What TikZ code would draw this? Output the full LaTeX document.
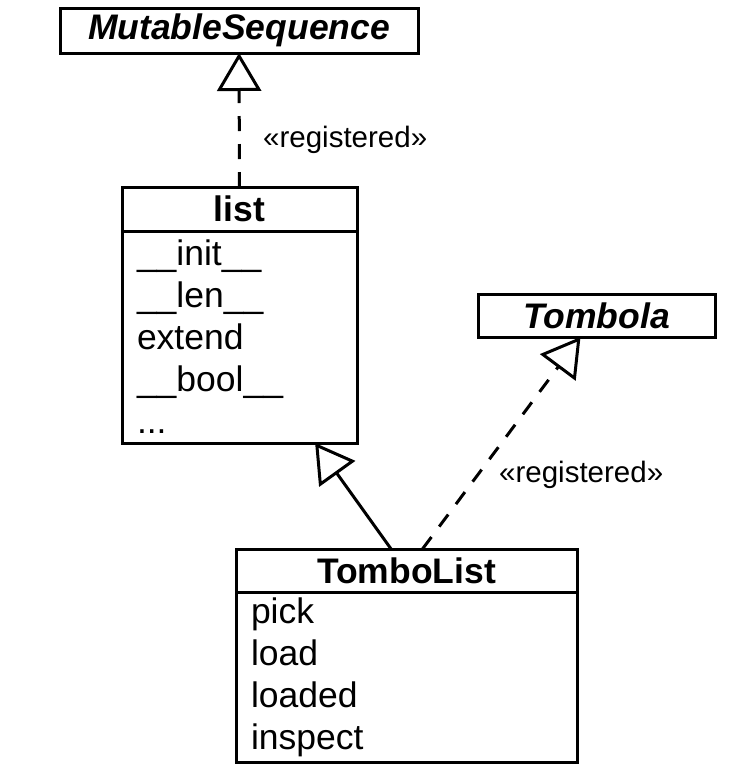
\documentclass[tikz,border=0pt]{standalone}
\usepackage{fontspec}
\setmainfont{Liberation Sans}
\usetikzlibrary{arrows.meta, positioning, calc}

\begin{document}
\begin{tikzpicture}[x=1pt, y=-1pt,
  box/.style={draw, line width=3pt, inner sep=0pt, outer sep=0pt},
  abstract/.style={box, font=\fontsize{35.5}{42}\selectfont\bfseries\itshape},
  classhead/.style={box, font=\fontsize{35.5}{42}\selectfont\bfseries},
  classbody/.style={box, align=left, inner xsep=15pt, font=\fontsize{35.5}{42}\selectfont},
  stereo/.style={anchor=base west, inner sep=0pt, font=\fontsize{29.5}{35}\selectfont},
  realizes/.style={line width=3pt, dash pattern=on 15pt off 13pt, -{Triangle[open, length=38pt, width=44pt]}},
  inherits/.style={line width=3pt, -{Triangle[open, length=38pt, width=44pt]}}]
\useasboundingbox (0,0) rectangle (750,774);

% Abstract base classes
\node[abstract, minimum width=358pt, minimum height=45pt] (mutseq) at (239,30.5) {MutableSequence};
\node[abstract, minimum width=237pt, minimum height=43pt] (tombola) at (596.5,315.5) {Tombola};

% Concrete classes: name on top, methods below
\node[classhead, minimum width=235pt, minimum height=44pt] (list) at (239.5,209) {list};
\node[classbody, text width=205pt, minimum height=212pt, below=0pt of list] (listbody) {\_\_init\_\_\\ \_\_len\_\_\\ extend\\ \_\_bool\_\_\\ ...};

\node[classhead, minimum width=341pt, minimum height=43pt] (tombolist) at (406.5,570.5) {TomboList};
\node[classbody, text width=311pt, minimum height=170pt, below=0pt of tombolist] (tombobody) {pick\\ load\\ loaded\\ inspect};

% Relations
\draw[realizes] (list) -- (mutseq);
\draw[inherits] (tombolist) -- (listbody);
\draw[realizes] (tombolist) -- (tombola);

% Stereotype labels
\node[stereo] (regseq) at (263,147) {«registered»};
\node[stereo] (regtombola) at (499,482) {«registered»};
\end{tikzpicture}
\end{document}
